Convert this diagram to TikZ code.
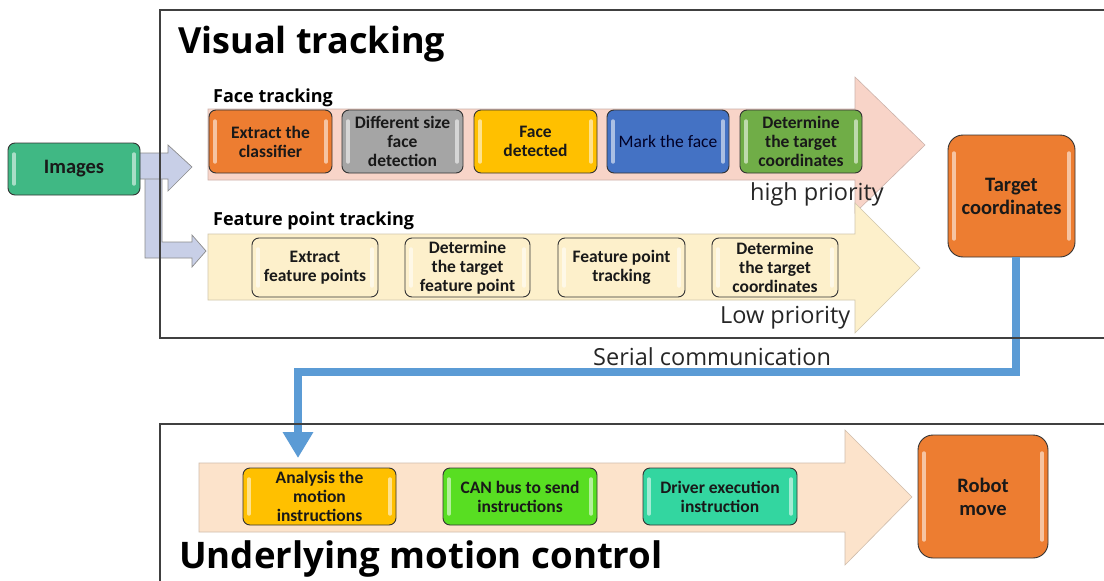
\documentclass[tikz,border=0pt]{standalone}
\usepackage{fontspec}
\setmainfont{Open Sans}
\newfontfamily\boxfont{Carlito}
\usetikzlibrary{arrows.meta}

\definecolor{cOrange}{HTML}{ED7D31}
\definecolor{cGrey}{HTML}{A5A5A5}
\definecolor{cYellow}{HTML}{FFC000}
\definecolor{cBlue}{HTML}{4472C4}
\definecolor{cGreen}{HTML}{70AD47}
\definecolor{cMint}{HTML}{40B884}
\definecolor{cLime}{HTML}{58DE22}
\definecolor{cTeal}{HTML}{33D6A0}
\definecolor{cCream}{HTML}{FDF0CB}
\definecolor{cPink}{HTML}{F8D4C8}
\definecolor{cPeach}{HTML}{FCE3CB}
\definecolor{cLav}{HTML}{C8CFE7}
\definecolor{cLink}{HTML}{5B9BD5}
\definecolor{cFrame}{HTML}{404040}

% soft glossy strips along the inner left and right edges of a box
\newcommand\glossstrips[1]{%
  \draw[white, opacity=0.55, line width=3.4pt, line cap=round]
    ([xshift=6pt,yshift=-#1]path picture bounding box.north west) --
    ([xshift=6pt,yshift=#1]path picture bounding box.south west)
    ([xshift=-6pt,yshift=-#1]path picture bounding box.north east) --
    ([xshift=-6pt,yshift=#1]path picture bounding box.south east);}

\tikzset{
  gbox/.style={draw=black!80, line width=0.9pt, rounded corners=7pt,
    align=center, inner sep=0pt, text=black!90,
    font=\boxfont\bfseries\fontsize{17.5}{19}\selectfont,
    path picture={\glossstrips{11pt}}},
  bigbox/.style={gbox, rounded corners=15pt,
    font=\boxfont\bfseries\fontsize{20.5}{23}\selectfont,
    path picture={\glossstrips{18pt}}},
  frame/.style={draw=cFrame, line width=1.3pt},
  band/.style={line width=0.6pt},
  title/.style={anchor=base west, inner sep=0pt,
    font=\bfseries\fontsize{36}{40}\selectfont},
  subtitle/.style={anchor=base west, inner sep=0pt,
    font=\bfseries\fontsize{18}{20}\selectfont},
  note/.style={anchor=base west, inner sep=0pt,
    font=\fontsize{23.5}{26}\selectfont, text=black!85},
  blocklink/.style={fill=cLav, draw=black!45, line width=0.7pt},
  serial/.style={draw=cLink, line width=8pt,
    -{Triangle[width=29pt,length=26pt]}},
}

\begin{document}
\begin{tikzpicture}[x=1pt,y=-1pt]
\clip (0,0) rectangle (1104,581);
\fill[white] (0,0) rectangle (1104,581);

% --- large priority bands
\draw[band, fill=cPink, draw=cPink!80!black!90]
  (208,109) -- (855,109) -- (855,77) -- (925,145) -- (855,213) -- (855,180) -- (208,180) -- cycle;
\draw[band, fill=cCream, draw=cCream!80!black!90]
  (208,234) -- (855,234) -- (855,203) -- (920,268) -- (855,333) -- (855,300) -- (208,300) -- cycle;
\draw[band, fill=cPeach, draw=cPeach!80!black!90]
  (199,463) -- (845,463) -- (845,430) -- (912,497) -- (845,565) -- (845,532) -- (199,532) -- cycle;

% --- block arrows leaving the image source
\draw[blocklink]
  (145,170) -- (162,170) -- (162,242) -- (192,242) -- (192,235) -- (206,251)
  -- (192,267) -- (192,258) -- (145,258) -- cycle;
\draw[blocklink]
  (136,153) -- (168,153) -- (168,145) -- (192,167) -- (168,191) -- (168,179)
  -- (136,179) -- cycle;

% --- nodes
\node[gbox, fill=cMint, minimum width=132pt, minimum height=52pt,
  font=\boxfont\bfseries\fontsize{20.5}{23}\selectfont] (img) at (74,169) {Images};

\node[gbox, fill=cOrange, minimum width=123pt, minimum height=63pt] (fc1) at (270.5,141.5) {Extract the\\classifier};
\node[gbox, fill=cGrey,   minimum width=121pt, minimum height=63pt] (fc2) at (402.5,141.5) {Different size\\face\\detection};
\node[gbox, fill=cYellow, minimum width=123pt, minimum height=63pt] (fc3) at (535.5,141.5) {Face\\detected};
\node[gbox, fill=cBlue,   minimum width=122pt, minimum height=63pt,
  font=\boxfont\fontsize{17.5}{19}\selectfont, text=black!75!blue!60!black] (fc4) at (668,141.5) {Mark the face};
\node[gbox, fill=cGreen,  minimum width=122pt, minimum height=63pt] (fc5) at (801,141.5) {Determine\\the target\\coordinates};

\node[gbox, fill=cCream, minimum width=126pt, minimum height=59pt] (fp1) at (315,267.5) {Extract\\feature points};
\node[gbox, fill=cCream, minimum width=125pt, minimum height=59pt] (fp2) at (467.5,267.5) {Determine\\the target\\feature point};
\node[gbox, fill=cCream, minimum width=127pt, minimum height=59pt] (fp3) at (621.5,267.5) {Feature point\\tracking};
\node[gbox, fill=cCream, minimum width=126pt, minimum height=59pt] (fp4) at (775,267.5) {Determine\\the target\\coordinates};

\node[bigbox, fill=cOrange, minimum width=127pt, minimum height=122pt] (tc) at (1011.5,196) {Target\\coordinates};

\node[gbox, fill=cYellow, minimum width=153pt, minimum height=57pt] (m1) at (319.5,496.5) {Analysis the\\motion\\instructions};
\node[gbox, fill=cLime,   minimum width=154pt, minimum height=57pt] (m2) at (520,496.5) {CAN bus to send\\instructions};
\node[gbox, fill=cTeal,   minimum width=154pt, minimum height=57pt] (m3) at (720,496.5) {Driver execution\\instruction};

\node[bigbox, fill=cOrange, minimum width=130pt, minimum height=123pt] (rb) at (983,496.5) {Robot\\move};

% --- serial link from the tracker to the motion controller
\coordinate (turn) at (298,372);
\coordinate (drop) at (298,458);
\draw[serial] ([xshift=4.5pt]tc.south) |- (turn) -- (drop);

% --- section frames
\draw[frame] (1120,10) -- (160,10) -- (160,338) -- (1120,338);
\draw[frame] (1120,424) -- (160,424) -- (160,600);

% --- texts
\node[title] (t1) at (178,53) {Visual tracking};
\node[title, font=\bfseries\fontsize{36.6}{40}\selectfont] (t2) at (179,568) {Underlying motion control};
\node[subtitle] (s1) at (213,102) {Face tracking};
\node[subtitle] (s2) at (213,225) {Feature point tracking};
\node[note] (n1) at (750,200) {high priority};
\node[note] (n2) at (720,323) {Low priority};
\node[note] (n3) at (593,365) {Serial communication};
\end{tikzpicture}
\end{document}
